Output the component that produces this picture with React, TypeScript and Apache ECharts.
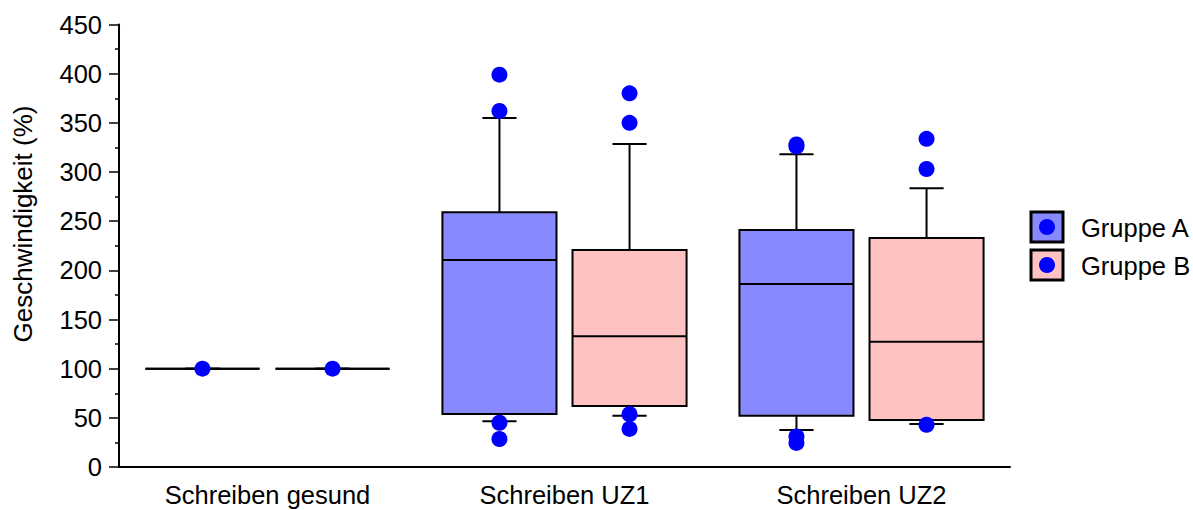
import React, { useEffect, useRef } from "react";
import * as echarts from "echarts";

const categories = ["Schreiben gesund", "Schreiben UZ1", "Schreiben UZ2"];
const groupNames = ["Gruppe A", "Gruppe B"];
const yTitle = "Geschwindigkeit (%)";
// [lower whisker, Q1, median, Q3, upper whisker]
const statsA = [
  [100, 100, 100, 100, 100],
  [46.5, 54, 210.5, 259, 355],
  [37.6, 52, 186, 241, 318],
];
const statsB = [
  [100, 100, 100, 100, 100],
  [52, 62, 133, 220.7, 328.6],
  [43.7, 47.8, 127.5, 233, 283.5],
];
const outliersA = [[100], [399, 362, 45, 28.5], [328, 326, 31, 24.5]];
const outliersB = [[100], [380, 350, 53.6, 38.7], [333.7, 303, 43]];
const yTicks = { min: 0, max: 450, interval: 50 };

const FONT = "'Liberation Sans', Arial, sans-serif";
const FS = 25.5;
const fills = ["#8888FF", "#FFC2C2"];
const offsets = [-0.219, 0.219];
const boxFrac = 0.384;
const capFrac = 0.115;

function boxSeries(stats: number[][], gi: number) {
  return {
    type: "custom",
    name: groupNames[gi],
    data: stats.map((s, i) => [i, ...s]),
    encode: { x: 0, y: [1, 2, 3, 4, 5] },
    z: 2,
    renderItem: (params: any, api: any) => {
      const ci = api.value(0);
      const bw = api.size([1, 0])[0];
      const cx = api.coord([ci, 0])[0] + offsets[gi] * bw;
      const w = bw * boxFrac;
      const cw = bw * capFrac;
      const y = (k: number) => api.coord([ci, api.value(k)])[1];
      const lo = y(1), q1 = y(2), med = y(3), q3 = y(4), hi = y(5);
      const ls = { stroke: "#000", lineWidth: 2 };
      return {
        type: "group",
        children: [
          { type: "line", shape: { x1: cx, y1: hi, x2: cx, y2: q3 }, style: ls },
          { type: "line", shape: { x1: cx, y1: q1, x2: cx, y2: lo }, style: ls },
          { type: "line", shape: { x1: cx - cw / 2, y1: hi, x2: cx + cw / 2, y2: hi }, style: ls },
          { type: "line", shape: { x1: cx - cw / 2, y1: lo, x2: cx + cw / 2, y2: lo }, style: ls },
          {
            type: "rect",
            shape: { x: cx - w / 2, y: q3, width: w, height: q1 - q3 },
            style: { fill: fills[gi], stroke: "#000", lineWidth: 2 },
          },
          { type: "line", shape: { x1: cx - w / 2, y1: med, x2: cx + w / 2, y2: med }, style: ls },
        ],
      };
    },
  };
}

function outlierSeries(out: number[][], gi: number) {
  const data: number[][] = [];
  out.forEach((vals, ci) => vals.forEach((v) => data.push([ci, v])));
  return {
    type: "custom",
    name: groupNames[gi] + " Ausreißer",
    data,
    encode: { x: 0, y: 1 },
    z: 3,
    renderItem: (params: any, api: any) => {
      const ci = api.value(0);
      const bw = api.size([1, 0])[0];
      const p = api.coord([ci, api.value(1)]);
      return {
        type: "circle",
        shape: { cx: p[0] + offsets[gi] * bw, cy: p[1], r: 8 },
        style: { fill: "#0000FF" },
      };
    },
  };
}

function graphics() {
  const items: any[] = [];
  groupNames.forEach((n, i) => {
    const top = 212 + i * 38;
    items.push({
      type: "rect",
      shape: { x: 1031, y: top, width: 32, height: 30 },
      style: { fill: fills[i], stroke: "#000", lineWidth: 3 },
    });
    items.push({
      type: "circle",
      shape: { cx: 1047, cy: top + 15, r: 8 },
      style: { fill: "#0000FF" },
    });
    items.push({
      type: "text",
      x: 1081,
      y: top + 16,
      style: { text: n, font: `${FS}px ${FONT}`, fill: "#000", textVerticalAlign: "middle" },
    });
  });
  items.push({
    type: "text",
    x: 23,
    y: 224,
    rotation: Math.PI / 2,
    style: {
      text: yTitle,
      font: `26px ${FONT}`,
      fill: "#000",
      textAlign: "center",
      textVerticalAlign: "middle",
    },
  });
  return items;
}

export default function App() {
  const ref = useRef<HTMLDivElement>(null);
  useEffect(() => {
    const chart = echarts.init(ref.current!, null, { renderer: "svg" });
    chart.setOption({
      animation: false,
      backgroundColor: "#fff",
      grid: { left: 119, right: 183, top: 24.5, bottom: 43, containLabel: false },
      xAxis: {
        type: "category",
        data: categories,
        axisLine: { lineStyle: { color: "#000", width: 2 } },
        axisTick: { alignWithLabel: true, length: 4, lineStyle: { color: "#000", width: 1.5 } },
        axisLabel: { color: "#000", fontSize: FS, fontFamily: FONT, margin: 15 },
        splitLine: { show: false },
      },
      yAxis: {
        type: "value",
        min: yTicks.min,
        max: yTicks.max,
        interval: yTicks.interval,
        axisLine: { show: true, lineStyle: { color: "#000", width: 2 } },
        axisTick: { show: true, length: 10, lineStyle: { color: "#000", width: 1.5 } },
        minorTick: { show: true, splitNumber: 2, length: 4, lineStyle: { color: "#000", width: 1.5 } },
        axisLabel: { color: "#000", fontSize: FS, fontFamily: FONT, margin: 17 },
        splitLine: { show: false },
      },
      graphic: graphics(),
      series: [
        boxSeries(statsA, 0),
        boxSeries(statsB, 1),
        outlierSeries(outliersA, 0),
        outlierSeries(outliersB, 1),
      ],
    });
    return () => chart.dispose();
  }, []);
  return <div ref={ref} style={{ width: 1193, height: 510, position: "absolute", left: 0, top: 0 }} />;
}
